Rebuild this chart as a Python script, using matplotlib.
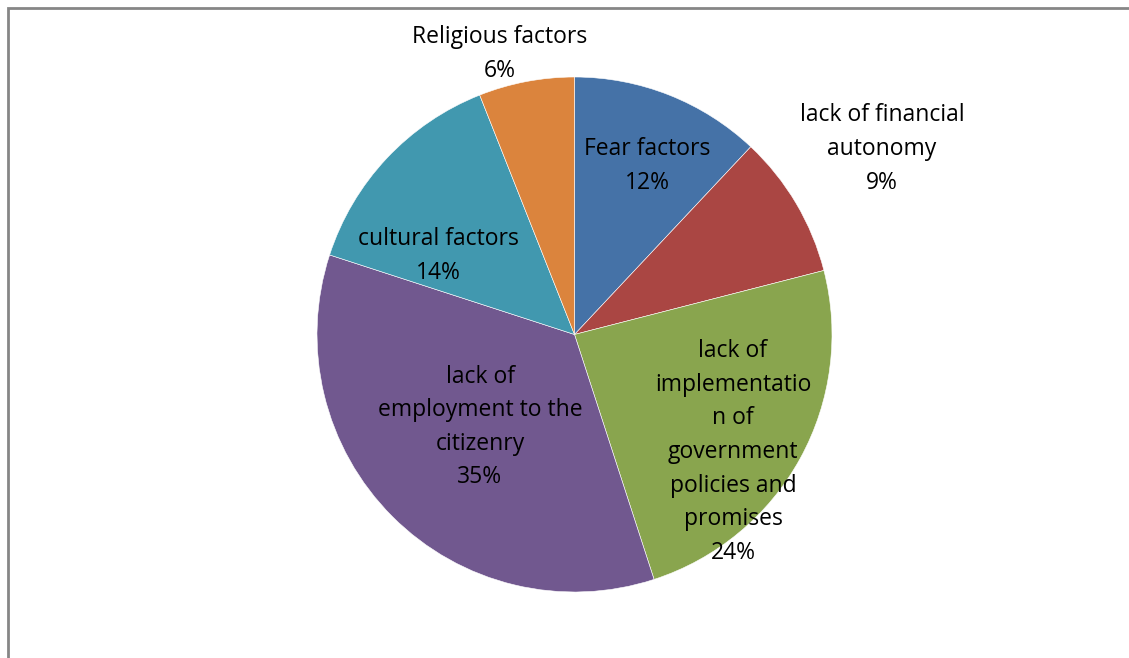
import matplotlib.pyplot as plt
from matplotlib.patches import Rectangle

# slice data, clockwise from 12 o'clock
labels = ['Fear factors', 'lack of financial\nautonomy',
          'lack of\nimplementatio\nn of\ngovernment\npolicies and\npromises',
          'lack of\nemployment to the\ncitizenry', 'cultural factors',
          'Religious factors']
values = [12, 9, 24, 35, 14, 6]
colors = ['#4572A7', '#AA4643', '#89A54E', '#71588F', '#4198AF', '#DB843D']

# label anchor points (pixel space, y measured from top)
label_pos = [(647, 166), (882, 149), (733, 452), (480, 427), (438, 256), (500, 54)]

W, H = 1129, 658
plt.rcParams['font.family'] = ['Open Sans', 'DejaVu Sans']

fig = plt.figure(figsize=(W / 100, H / 100), dpi=100)
ax = fig.add_axes([0, 0, 1, 1])

cx, cy, r = 574.5, H - 334.5, 257.5
ax.pie(values, colors=colors, startangle=90, counterclock=False,
       center=(cx, cy), radius=r, frame=True,
       wedgeprops=dict(edgecolor='white', linewidth=0.4))
ax.set_xlim(0, W)
ax.set_ylim(0, H)
ax.set_aspect('equal')
ax.axis('off')

for lab, v, (px, py) in zip(labels, values, label_pos):
    ax.text(px, H - py, f'{lab}\n{v}%', ha='center', va='center',
            fontsize=16.5, color='black', linespacing=1.53)

# chart area border
ax.add_patch(Rectangle((7.5, -20), W + 20, H - 7.5 + 20, fill=False,
                       edgecolor='#868686', linewidth=2, clip_on=False))

fig.savefig('out.png', dpi=100)
